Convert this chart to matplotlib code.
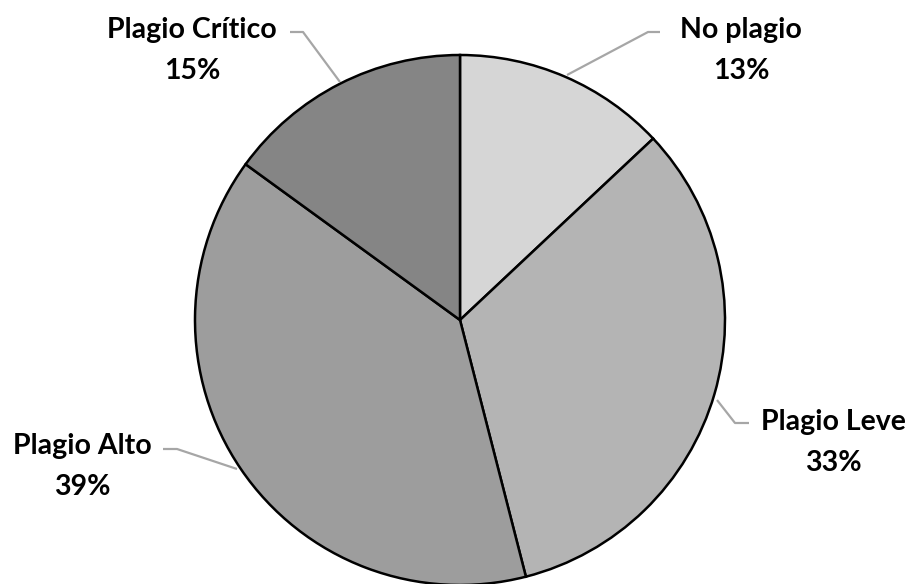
import matplotlib
matplotlib.use("Agg")
import matplotlib.pyplot as plt

labels = ["No plagio", "Plagio Leve", "Plagio Alto", "Plagio Crítico"]
values = [13, 33, 39, 15]
colors = ["#d6d6d6", "#b4b4b4", "#9d9d9d", "#858585"]

W, H = 912, 584
fig = plt.figure(figsize=(W / 100, H / 100), dpi=100)
ax = fig.add_axes([0, 0, 1, 1])

cx, cy, r = 460, H - 320, 265
ax.pie(values, colors=colors, startangle=90, counterclock=False,
       center=(cx, cy), radius=r, frame=True,
       wedgeprops=dict(edgecolor="black", linewidth=1.8))
ax.set_xlim(0, W)
ax.set_ylim(0, H)
ax.set_aspect("equal")
ax.axis("off")

# label positions in pixels (top-left origin) and leader lines
label_pos = [(741, 30), (833, 422), (82, 446), (192, 30)]
leaders = [
    [(660, 32), (648, 32), (567, 75)],
    [(717, 400), (735, 423), (749, 423)],
    [(163, 449), (177, 449), (237, 469)],
    [(290, 32), (303, 32), (340, 82)],
]

font = dict(family=["Lato", "DejaVu Sans"], fontweight="bold", fontsize=20.5, color="black")
for lab, v, (x, y), pts in zip(labels, values, label_pos, leaders):
    ax.text(x, H - y, lab, ha="center", va="center", **font)
    ax.text(x, H - y - 41, f"{v}%", ha="center", va="center", **font)
    xs = [p[0] for p in pts]
    ys = [H - p[1] for p in pts]
    ax.plot(xs, ys, color="#a6a6a6", linewidth=1.6, solid_capstyle="butt")

fig.savefig("out.png", dpi=100)
